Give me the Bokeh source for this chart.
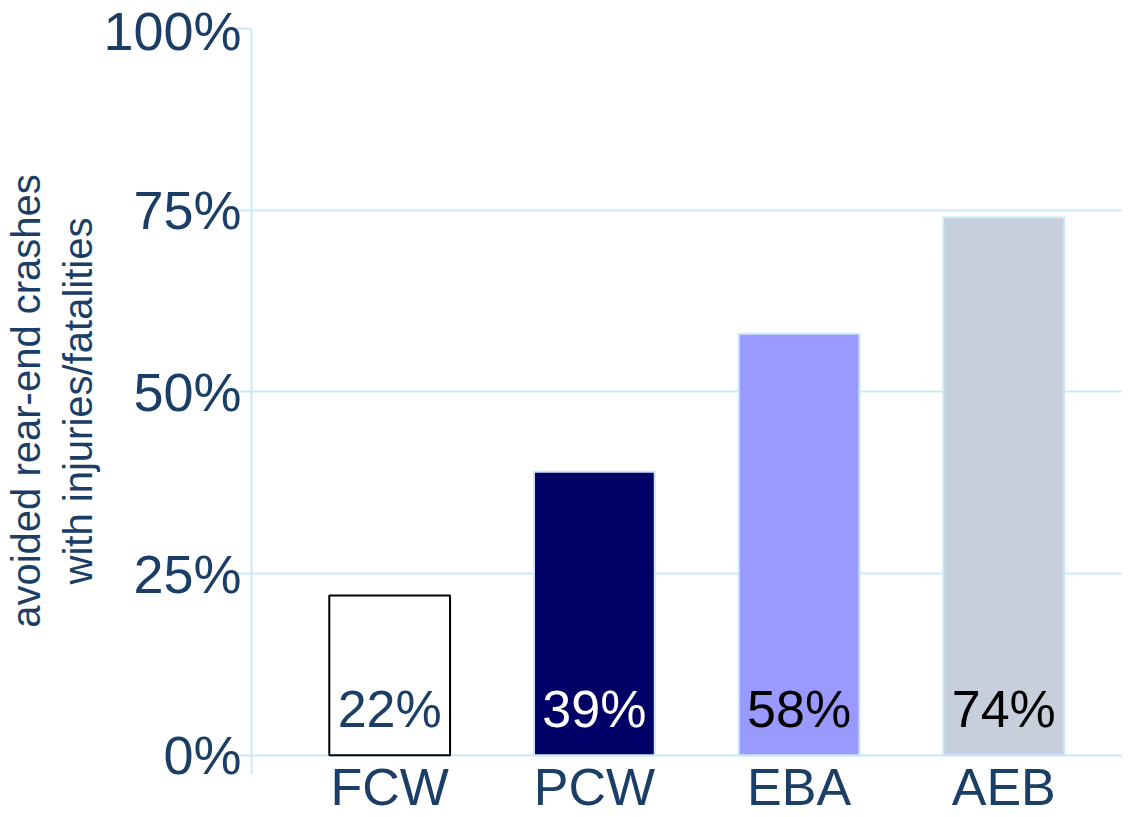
from bokeh.plotting import figure
from bokeh.models import Range1d, FixedTicker, PrintfTickFormatter, ColumnDataSource
from bokeh.embed import file_html
from bokeh.resources import INLINE
from bokeh.core.properties import value

categories = ["FCW", "PCW", "EBA", "AEB"]
values = [22, 39, 58, 74]
fill_colors = ["#ffffff", "#000066", "#9999ff", "#c8cfdc"]
line_colors = ["#000000", "#cce8f8", "#cce8f8", "#cce8f8"]
label_colors = ["#1b3e66", "#ffffff", "#000000", "#000000"]
y_ticks = [0, 25, 50, 75, 100]

DARK = "#1b3e66"
GRID = "#cce8f8"
FONT = "Liberation Sans"

xs = list(range(len(categories)))
src = ColumnDataSource(dict(
    x=xs, top=values, fill=fill_colors, line=line_colors,
    label=[f"{v}%" for v in values], lcolor=label_colors,
))

p = figure(width=1122, height=818, output_backend="svg", toolbar_location=None,
           x_range=Range1d(-0.675, 3.58), y_range=Range1d(-2.5, 100),
           min_border_left=240, min_border_right=0, min_border_top=28,
           min_border_bottom=44)
p.outline_line_color = None
p.background_fill_color = "white"
p.border_fill_color = "white"

p.vbar(x="x", top="top", bottom=0, width=0.59, source=src,
       fill_color="fill", line_color="line", line_width=2)

p.text(x="x", y=0, text="label", source=src, text_color="lcolor",
       text_align="center", text_baseline="alphabetic", y_offset=-46,
       text_font=value(FONT), text_font_size="52px")

# y axis
p.yaxis.ticker = FixedTicker(ticks=y_ticks)
p.yaxis.formatter = PrintfTickFormatter(format="%d%%")
p.yaxis.axis_line_color = GRID
p.yaxis.axis_line_width = 2
p.yaxis.major_tick_line_color = GRID
p.yaxis.major_tick_line_width = 2
p.yaxis.major_tick_in = 0
p.yaxis.major_tick_out = 16
p.yaxis.minor_tick_line_color = None
p.yaxis.major_label_standoff = -6
p.yaxis.major_label_text_font = FONT
p.yaxis.major_label_text_font_size = "54px"
p.yaxis.major_label_text_color = DARK
p.yaxis.axis_label = "avoided rear-end crashes\nwith injuries/fatalities"
p.yaxis.axis_label_text_font = FONT
p.yaxis.axis_label_text_font_size = "40px"
p.yaxis.axis_label_text_font_style = "normal"
p.yaxis.axis_label_text_color = DARK
p.yaxis.axis_label_standoff = 0

# x axis
p.xaxis.ticker = FixedTicker(ticks=xs)
p.xaxis.major_label_overrides = {i: c for i, c in zip(xs, categories)}
p.xaxis.axis_line_color = None
p.xaxis.major_tick_line_color = None
p.xaxis.minor_tick_line_color = None
p.xaxis.major_label_standoff = -22
p.xaxis.major_label_text_font = FONT
p.xaxis.major_label_text_font_size = "52px"
p.xaxis.major_label_text_color = DARK

p.xgrid.grid_line_color = None
p.ygrid.ticker = FixedTicker(ticks=y_ticks)
p.ygrid.grid_line_color = GRID
p.ygrid.grid_line_width = 2

open("out.html", "w").write(file_html(p, INLINE))
